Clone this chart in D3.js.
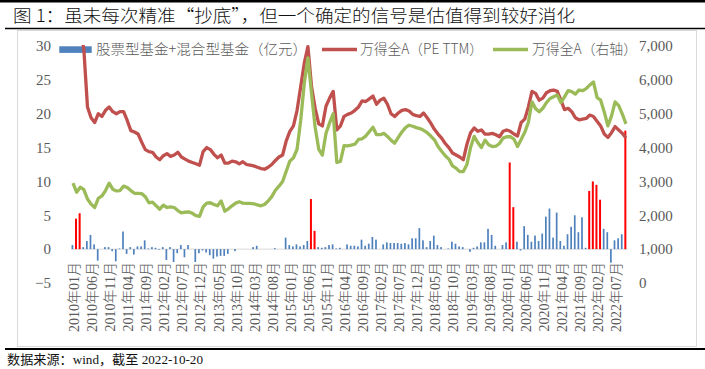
<!DOCTYPE html>
<html><head><meta charset="utf-8">
<script src="https://cdn.jsdelivr.net/npm/d3@7"></script>
<style>body{margin:0;background:#fff;} svg{display:block;}</style>
</head><body><svg id="c" width="705" height="369"></svg>
<script>
// ---------- data ----------
const startYear = 2010, monthCount = 154;
const months = [];
for (let i = 0; i < monthCount; i++) {
  const y = startYear + Math.floor(i / 12), m = (i % 12) + 1;
  months.push(y + "年" + String(m).padStart(2, "0") + "月");
}
// 股票型基金+混合型基金（亿元）
const fundFlow = [
  0.6,4.5,5.3,0.3,1.2,2.1,0.7,-1.7,0,0.3,
  0.3,-0.3,-1.8,0.1,2.6,-0.7,0.3,-0.8,0.4,0.4,
  1.3,0.1,0.3,0.2,-0.1,0.3,-1.6,0.3,-1.9,-0.6,
  0.6,-1.2,0.6,0,-1.9,-0.6,-0.2,-0.5,-0.9,-1.4,
  -1.1,-1.0,-1.0,-0.7,0,-0.3,0,0,0,0,
  0.3,0.5,0,0,0,0,0.15,0,0,1.7,
  0.6,0.4,0.7,0.4,0.6,1.2,7.4,2.7,0.3,0.2,
  0.3,0.6,0.7,0.1,0.2,0,0.7,0.5,0.5,0.4,
  1.4,0.5,0.8,1.8,1.4,0,0.7,1.0,0.9,0.9,
  0.9,0.8,0.9,0.7,1.6,1.6,3.1,1.3,0.3,1.2,
  2.0,0.6,0.3,0,0.1,1.1,0.8,0.4,0.3,0,
  -0.4,0.2,0.4,1.0,1.0,3.0,2.1,0.5,0,0.6,
  1.0,12.8,6.2,1.1,-0.2,3.4,2.1,1.1,2.0,1.2,
  2.3,4.8,6.0,1.7,5.4,1.2,0.5,2.2,3.3,5.0,
  2.5,4.7,0.2,8.6,10.0,9.5,7.3,3.0,2.5,-2.0,
  1.3,1.6,2.2,17.5
];
// months drawn in red ("抄底" signals)
const highlightMonths = ["2010年02月","2010年03月","2015年07月","2015年08月","2020年02月","2020年03月",
  "2021年12月","2022年01月","2022年02月","2022年03月","2022年10月"];
// 万得全A（PE TTM）
const peTTM = [
  34,34,33,29.5,21.0,19.4,18.7,20.0,19.6,20.5,
  21.0,20.3,20.0,20.3,20.3,19.0,17.5,17.3,17.0,15.8,
  14.7,14.4,14.3,13.6,13.2,13.8,14.1,13.7,13.9,14.3,
  13.6,13.3,13.0,12.8,12.6,12.4,14.4,15.0,14.7,14.0,
  13.5,13.9,12.7,12.7,13.0,12.9,12.6,12.9,12.5,12.4,
  12.3,12.1,11.9,11.8,12.1,12.5,13.1,13.6,13.9,16.0,
  17.4,18.2,20.5,24.0,27.5,29.9,24.0,20.8,18.5,18.2,
  21.1,22.3,23.3,17.6,18.2,19.6,19.9,20.1,20.5,21.0,
  21.9,21.8,22.2,22.6,21.4,22.0,22.3,21.4,20.0,19.6,
  20.1,20.5,20.6,20.4,19.9,19.7,19.6,20.1,19.4,18.6,
  17.7,17.0,16.4,15.6,15.0,14.2,13.9,13.6,13.2,15.5,
  17.2,17.9,17.4,17.6,17.0,17.0,17.1,16.9,16.6,17.4,
  17.6,17.4,17.0,16.7,18.7,19.2,21.0,23.3,23.0,22.0,
  22.3,23.1,23.4,23.5,23.3,22.0,20.6,20.8,20.3,19.4,
  19.1,19.2,19.3,19.8,19.6,18.9,18.2,17.0,16.5,17.2,
  18.1,17.6,17.1,16.4
];
// 万得全A（右轴）
const windA = [
  2950,2680,2830,2760,2480,2330,2230,2500,2570,2730,
  2950,2770,2720,2730,2860,2820,2730,2650,2650,2640,
  2550,2370,2390,2280,2180,2300,2230,2250,2230,2140,
  2070,2090,2100,2060,1990,1970,2250,2360,2370,2320,
  2280,2420,2120,2190,2280,2360,2400,2360,2350,2350,
  2340,2310,2280,2320,2420,2550,2740,2860,3000,3300,
  3600,3700,3950,4800,5900,6650,5600,4600,3950,3780,
  4420,4730,5000,3560,3590,4060,4050,4070,4100,4240,
  4260,4340,4470,4600,4380,4380,4420,4330,4220,4130,
  4300,4460,4590,4660,4630,4590,4560,4510,4440,4340,
  4230,4030,3890,3760,3660,3460,3390,3290,3290,3500,
  4000,4330,4150,4000,4220,4080,4030,4040,4120,4280,
  4320,4320,4250,4030,4240,4450,4750,5350,5150,5060,
  5160,5330,5450,5500,5550,5330,5500,5680,5650,5580,
  5700,5680,5740,5850,5940,5480,5400,5050,4640,4930,
  5350,5240,4990,4700
];
const leftTicks = [-5,0,5,10,15,20,25,30];
const rightTicks = [0,1000,2000,3000,4000,5000,6000,7000];
const legendLabels = ["股票型基金+混合型基金（亿元）","万得全A（PE TTM）","万得全A（右轴）"];
const titleText = "图 1：虽未每次精准“抄底”，但一个确定的信号是估值得到较好消化";
const sourceText = "数据来源：wind，截至 2022-10-20";

// ---------- drawing ----------
const svg = d3.select("#c");
const BLUE = "#4F81BD", RED_BAR = "#FF0000", RED = "#C0504D", GREEN = "#9BBB59", GREY = "#595959";
const serif = "'Liberation Serif','Noto Sans CJK SC',serif";
const cjk = "'Noto Sans CJK SC','Liberation Serif',sans-serif";

svg.append("rect").attr("width",705).attr("height",369).attr("fill","#fff");
// top bar + title
svg.append("rect").attr("x",0).attr("y",0).attr("width",705).attr("height",2.5).attr("fill","#000");
svg.append("text").attr("x",13).attr("y",22).attr("font-family",cjk).attr("font-size",17.5).attr("font-weight",300)
  .attr("fill","#111").attr("textLength",562).attr("lengthAdjust","spacingAndGlyphs").text(titleText);
svg.append("line").attr("x1",5).attr("x2",705).attr("y1",28.5).attr("y2",28.5).attr("stroke","#000").attr("stroke-width",1.3);
// chart frame
svg.append("rect").attr("x",17.5).attr("y",30.5).attr("width",679).attr("height",316)
  .attr("fill","#fff").attr("stroke","#d9d9d9").attr("stroke-width",1);
// footer
svg.append("line").attr("x1",5).attr("x2",705).attr("y1",349).attr("y2",349).attr("stroke","#000").attr("stroke-width",1.8);
svg.append("text").attr("x",7).attr("y",364).attr("font-family",serif).attr("font-size",13)
  .attr("fill","#111").attr("textLength",196).attr("lengthAdjust","spacingAndGlyphs").text(sourceText);

// scales
const x = d3.scaleBand().domain(months).range([71.2, 71.2 + 3.614*monthCount]).paddingInner(0).paddingOuter(0);
const cx = d => x(d) + x.bandwidth()/2;
const yL = d3.scaleLinear().domain([-5,30]).range([283,46]);
const yR = d3.scaleLinear().domain([0,7000]).range([283,46]);

// zero / category axis line
svg.append("line").attr("x1",x.range()[0]).attr("x2",x.range()[1]).attr("y1",yL(0)).attr("y2",yL(0))
  .attr("stroke","#d9d9d9").attr("stroke-width",1);

// legend
const lg = svg.append("g").attr("font-weight",300);
lg.append("rect").attr("x",59.3).attr("y",46.3).attr("width",32.4).attr("height",6.6).attr("fill",BLUE);
lg.append("text").attr("x",96).attr("y",54.3).attr("font-family",cjk).attr("font-size",14).attr("fill",GREY)
  .attr("textLength",211).attr("lengthAdjust","spacingAndGlyphs").text(legendLabels[0]);
lg.append("line").attr("x1",322).attr("x2",357).attr("y1",49.5).attr("y2",49.5).attr("stroke",RED).attr("stroke-width",3.5);
lg.append("text").attr("x",360).attr("y",54.3).attr("font-family",cjk).attr("font-size",14).attr("fill",GREY)
  .attr("textLength",123).attr("lengthAdjust","spacingAndGlyphs").text(legendLabels[1]);
lg.append("line").attr("x1",493).attr("x2",528).attr("y1",49.5).attr("y2",49.5).attr("stroke",GREEN).attr("stroke-width",3.5);
lg.append("text").attr("x",532).attr("y",54.3).attr("font-family",cjk).attr("font-size",14).attr("fill",GREY)
  .attr("textLength",105).attr("lengthAdjust","spacingAndGlyphs").text(legendLabels[2]);

// bars
const barData = months.map((m,i)=>({m, v:fundFlow[i], hi: highlightMonths.includes(m)}));
svg.append("g").selectAll("rect").data(barData).join("rect")
  .attr("x", d => cx(d.m) - 0.6 - (d.hi?1.0:0.85))
  .attr("width", d => d.hi ? 2.0 : 1.7)
  .attr("y", d => yL(Math.max(0,d.v)))
  .attr("height", d => Math.abs(yL(d.v) - yL(0)))
  .attr("fill", d => d.hi ? RED_BAR : BLUE);

// clip for lines
svg.append("clipPath").attr("id","pc").append("rect").attr("x",60).attr("y",45).attr("width",580).attr("height",240);
const gl = svg.append("g").attr("clip-path","url(#pc)");
const lineL = d3.line().x((d,i)=>cx(months[i])).y(d=>yL(d));
const lineR = d3.line().x((d,i)=>cx(months[i])).y(d=>yR(d));
gl.append("path").attr("d", lineL(peTTM)).attr("fill","none").attr("stroke",RED).attr("stroke-width",3.3).attr("stroke-linejoin","round");
gl.append("path").attr("d", lineR(windA)).attr("fill","none").attr("stroke",GREEN).attr("stroke-width",3.3).attr("stroke-linejoin","round");

// left axis
const axL = svg.append("g").attr("transform","translate(51,0)")
  .call(d3.axisLeft(yL).tickValues(leftTicks).tickSize(0).tickPadding(0).tickFormat(d => d<0 ? "−"+Math.abs(d) : d));
axL.select(".domain").remove();
axL.selectAll("text").attr("font-family",serif).attr("font-size",15).attr("fill",GREY);
// right axis
const axR = svg.append("g").attr("transform","translate(639,0)")
  .call(d3.axisRight(yR).tickValues(rightTicks).tickSize(0).tickPadding(0).tickFormat(d3.format(",")));
axR.select(".domain").remove();
axR.selectAll("text").attr("font-family",serif).attr("font-size",15).attr("fill",GREY);

// x labels every 5 months, vertical
const tickMonths = months.filter((m,i)=> i%5===0);
svg.append("g").attr("font-weight",300).selectAll("text").data(tickMonths).join("text")
  .attr("transform", d => `translate(${cx(d)+1.5},262) rotate(-90)`)
  .attr("text-anchor","end").attr("dominant-baseline","central")
  .attr("font-family",serif).attr("font-size",14).attr("fill",GREY)
  .text(d=>d);
</script></body></html>
